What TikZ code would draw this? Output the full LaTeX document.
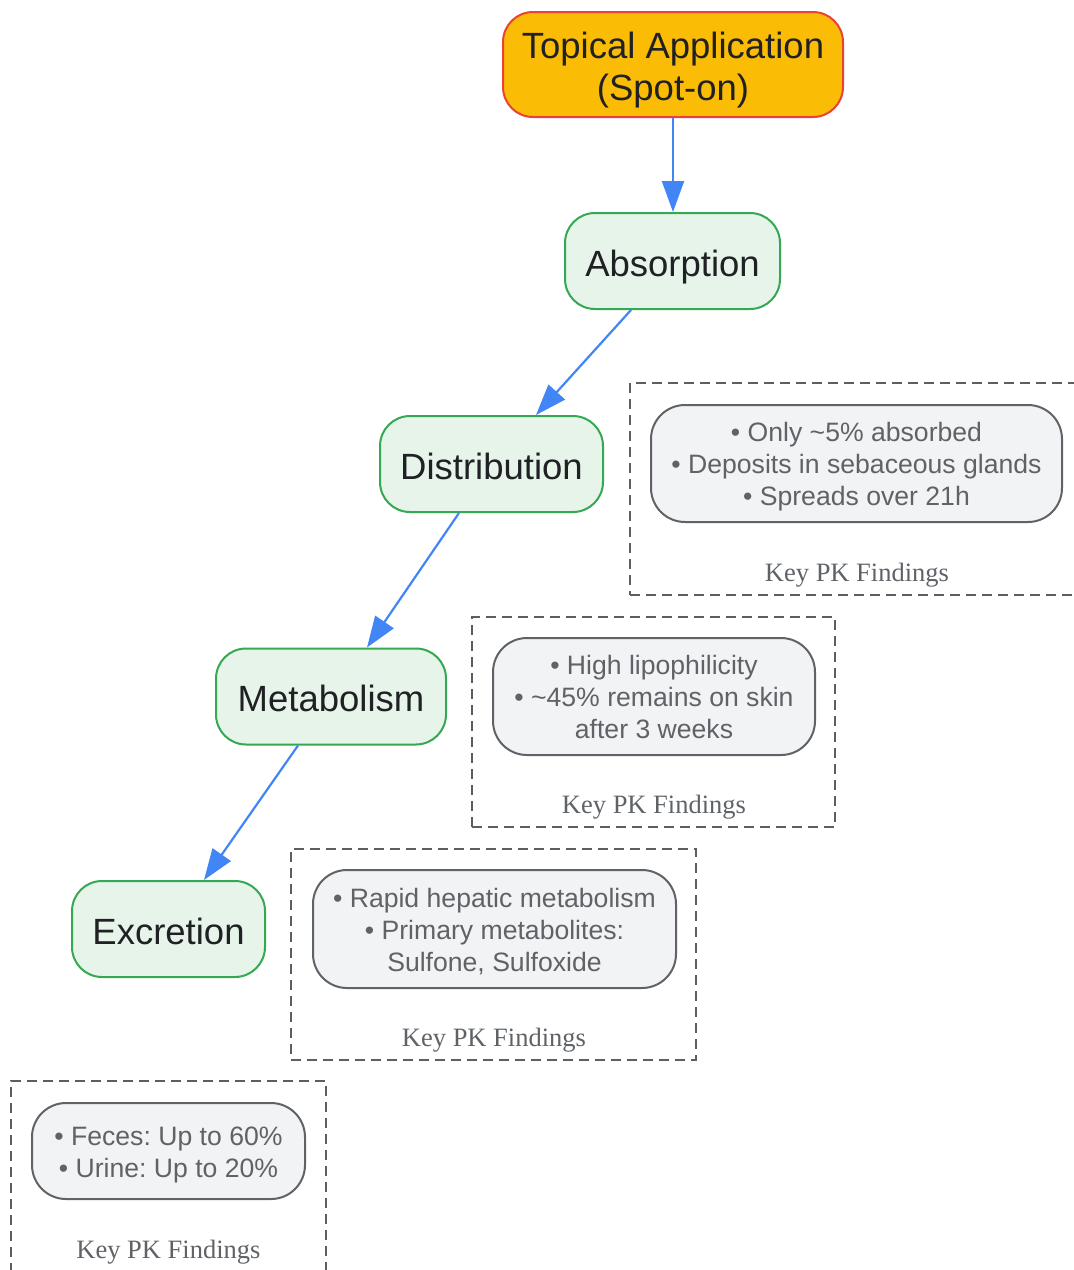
\documentclass[tikz,border=0pt]{standalone}
\usepackage{fontspec}
\setmainfont{Liberation Sans}
\newfontfamily\keyfont{Liberation Serif}
\usetikzlibrary{arrows.meta}
\frenchspacing
\definecolor{ambfill}{HTML}{FBBC05}
\definecolor{ambline}{HTML}{EA4335}
\definecolor{grnfill}{HTML}{E6F4EA}
\definecolor{grnline}{HTML}{34A853}
\definecolor{arrowc}{HTML}{4285F4}
\definecolor{notefill}{HTML}{F1F3F4}
\definecolor{noteline}{HTML}{5F6368}
\definecolor{textdark}{HTML}{202124}
\definecolor{dashc}{HTML}{5E5E5E}
% lines of text whose first baseline is raised by #1 from the node centre
\newcommand\linesat[2]{\raisebox{#1}[0pt][0pt]{\begin{tabular}[t]{@{}c@{}}#2\end{tabular}}}
\tikzset{
  stage/.style={draw=grnline, fill=grnfill, line width=2pt, rounded corners=30pt,
    text=textdark, font=\fontsize{36.5}{41.5}\selectfont, inner sep=0pt, minimum height=96pt},
  startbox/.style={stage, draw=ambline, fill=ambfill},
  notebox/.style={draw=noteline, fill=notefill, line width=2pt, rounded corners=34pt,
    text=noteline, font=\fontsize{26.6}{32}\selectfont, inner sep=0pt},
  clusterbox/.style={draw=dashc, line width=2.2pt, dash pattern=on 10pt off 6pt, inner sep=0pt},
  keylabel/.style={text=noteline, font=\keyfont\fontsize{26.5}{30}\selectfont, inner sep=0pt, anchor=base},
  flow/.style={draw=arrowc, line width=2.2pt, -{Triangle[length=31pt,width=22pt]}}
}
\begin{document}
\begin{tikzpicture}[x=1pt,y=-1pt]
\useasboundingbox (0,0) rectangle (1074,1270);
% clusters
\node[clusterbox, minimum width=446pt, minimum height=212pt] (c1) at (853,489) {};
\node[clusterbox, minimum width=363pt, minimum height=210pt] (c2) at (653.5,722) {};
\node[clusterbox, minimum width=405pt, minimum height=211pt] (c3) at (493.5,954.5) {};
\node[clusterbox, minimum width=315pt, minimum height=212pt] (c4) at (168.5,1187) {};
% notes
\node[notebox, minimum width=411pt, minimum height=117pt] (n1) at (856.5,463.5)
  {\linesat{21.8pt}{• Only \textasciitilde5\% absorbed\\• Deposits in sebaceous glands\\• Spreads over 21h}};
\node[notebox, minimum width=322pt, minimum height=117pt] (n2) at (654,696.5)
  {\linesat{21.8pt}{• High lipophilicity\\• \textasciitilde45\% remains on skin\\after 3 weeks}};
\node[notebox, minimum width=363pt, minimum height=118pt] (n3) at (494.5,929)
  {\linesat{21.8pt}{• Rapid hepatic metabolism\\• Primary metabolites:\\Sulfone, Sulfoxide}};
\node[notebox, minimum width=273pt, minimum height=96pt] (n4) at (168.5,1151)
  {\linesat{6pt}{• Feces: Up to 60\%\\• Urine: Up to 20\%}};
% cluster titles
\node[keylabel] (k1) at (857,581) {Key PK Findings};
\node[keylabel] (k2) at (654,813) {Key PK Findings};
\node[keylabel] (k3) at (494,1046) {Key PK Findings};
\node[keylabel] (k4) at (168.5,1258) {Key PK Findings};
% stages
\node[startbox, minimum width=340pt, minimum height=105pt] (top) at (673,64.5)
  {\linesat{6pt}{Topical Application\\(Spot-on)}};
\node[stage, minimum width=215pt] (abs) at (672.5,261) {\linesat{-15pt}{Absorption}};
\node[stage, minimum width=223pt] (dist) at (491.5,464) {\linesat{-15pt}{Distribution}};
\node[stage, minimum width=230pt] (met) at (331,696.5) {\linesat{-15pt}{Metabolism}};
\node[stage, minimum width=193pt] (exc) at (168.5,929) {\linesat{-15pt}{Excretion}};
% arrows
\draw[flow] (top.south) -- (top.south |- abs.north);
\draw[flow] ([xshift=-41.5pt]abs.south) -- ([xshift=44.5pt]dist.north);
\draw[flow] ([xshift=-32.5pt]dist.south) -- ([xshift=36pt]met.north);
\draw[flow] ([xshift=-33pt]met.south) -- ([xshift=35.5pt]exc.north);
\end{tikzpicture}
\end{document}
